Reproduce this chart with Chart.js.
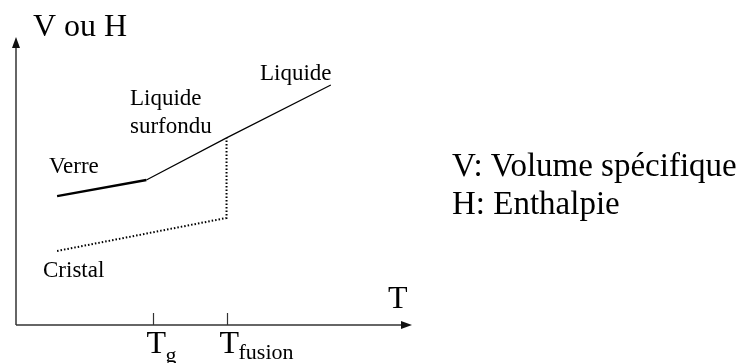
<!DOCTYPE html>
<html>
<head>
<meta charset="utf-8">
<script src="https://cdn.jsdelivr.net/npm/chart.js@4"></script>
<style>
  html, body { margin: 0; padding: 0; background: #fff; }
  #wrap { width: 739px; height: 363px; position: relative; }
</style>
</head>
<body>
<div id="wrap"><canvas id="chart"></canvas></div>
<script>
// Temperature (x) and V/H (y) on a 0..100 schematic scale
const verreX = [10.4, 33.0];
const verreY = [44.9, 50.5];
const liquideX = [33.0, 53.3, 79.7];
const liquideY = [50.5, 65.2, 83.6];
const cristalX = [10.4, 53.3, 53.3];
const cristalY = [25.8, 37.3, 65.2];
const tempTicks = [34.8, 53.3];
const tickSubs = ['g', 'fusion'];

const pts = (xs, ys) => xs.map((x, i) => ({ x, y: ys[i] }));
const SERIF = '"Liberation Serif", "Times New Roman", serif';

// axes with arrows, ticks and all the text
const sketchPlugin = {
  id: 'sketch',
  afterDraw(chart) {
    const { ctx, chartArea: a, scales: { x, y } } = chart;
    ctx.save();
    ctx.strokeStyle = '#333';
    ctx.fillStyle = '#111';
    ctx.lineWidth = 1.5;
    // y axis
    ctx.beginPath();
    ctx.moveTo(a.left, a.bottom);
    ctx.lineTo(a.left, a.top + 8);
    ctx.stroke();
    ctx.beginPath();
    ctx.moveTo(a.left, a.top - 1);
    ctx.lineTo(a.left - 4, a.top + 10);
    ctx.lineTo(a.left + 4, a.top + 10);
    ctx.closePath();
    ctx.fill();
    // x axis
    ctx.beginPath();
    ctx.moveTo(a.left, a.bottom);
    ctx.lineTo(a.right - 8, a.bottom);
    ctx.stroke();
    ctx.beginPath();
    ctx.moveTo(a.right + 1, a.bottom);
    ctx.lineTo(a.right - 10, a.bottom - 4);
    ctx.lineTo(a.right - 10, a.bottom + 4);
    ctx.closePath();
    ctx.fill();
    // ticks
    ctx.lineWidth = 1.2;
    tempTicks.forEach(v => {
      const px = Math.round(x.getPixelForValue(v)) + 0.5;
      ctx.beginPath();
      ctx.moveTo(px, a.bottom - 12);
      ctx.lineTo(px, a.bottom);
      ctx.stroke();
    });

    ctx.fillStyle = '#000';
    ctx.textBaseline = 'alphabetic';
    ctx.textAlign = 'left';
    const txt = (s, px, py, size) => {
      ctx.font = size + 'px ' + SERIF;
      ctx.fillText(s, px, py);
    };
    txt('V ou H', 33, 36, 32);
    txt('T', 388, 308, 32);
    txt('Liquide', 260, 80, 23);
    txt('Liquide', 130, 105, 23);
    txt('surfondu', 130, 133, 23);
    txt('Verre', 49, 173, 23);
    txt('Cristal', 43, 277, 23);
    // tick labels with subscripts
    tempTicks.forEach((v, i) => {
      const px = x.getPixelForValue(v);
      txt('T', px - 7, 353, 32);
      txt(tickSubs[i], px + 12, i === 0 ? 362 : 359, 22);
    });
    txt('V: Volume spécifique', 452, 176, 33);
    txt('H: Enthalpie', 452, 214, 33);
    ctx.restore();
  }
};

new Chart(document.getElementById('chart'), {
  type: 'scatter',
  data: {
    datasets: [
      {
        label: 'Verre',
        data: pts(verreX, verreY),
        showLine: true,
        borderColor: '#000',
        borderWidth: 2.5,
        pointRadius: 0,
        tension: 0
      },
      {
        label: 'Liquide',
        data: pts(liquideX, liquideY),
        showLine: true,
        borderColor: '#000',
        borderWidth: 1.2,
        pointRadius: 0,
        tension: 0
      },
      {
        label: 'Cristal',
        data: pts(cristalX, cristalY),
        showLine: true,
        borderColor: '#000',
        borderWidth: 2,
        borderDash: [1.5, 2],
        borderCapStyle: 'butt',
        pointRadius: 0,
        tension: 0
      }
    ]
  },
  options: {
    responsive: true,
    maintainAspectRatio: false,
    animation: false,
    layout: { padding: { left: 16, right: 328, top: 38, bottom: 38 } },
    plugins: { legend: { display: false }, tooltip: { enabled: false } },
    scales: {
      x: { type: 'linear', min: 0, max: 100, display: false },
      y: { type: 'linear', min: 0, max: 100, display: false }
    }
  },
  plugins: [sketchPlugin]
});
</script>
</body>
</html>
